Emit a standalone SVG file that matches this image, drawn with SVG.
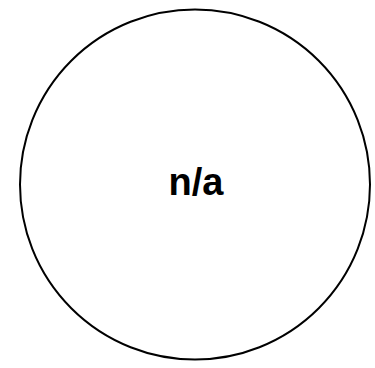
<svg xmlns="http://www.w3.org/2000/svg" width="375" height="368" viewBox="0 0 375 368">
<style>
.node{fill:#ffffff;stroke:#000000;stroke-width:2}
.label{font-family:"Liberation Sans",Arial,sans-serif;font-weight:bold;font-size:38px;fill:#000000}
</style>
<rect width="375" height="368" fill="#ffffff"/>
<g id="node-na">
<circle class="node" cx="195" cy="184.5" r="175"/>
<text class="label" x="196" y="195" text-anchor="middle">n/a</text>
</g>
<g id="connectors"></g>
</svg>
